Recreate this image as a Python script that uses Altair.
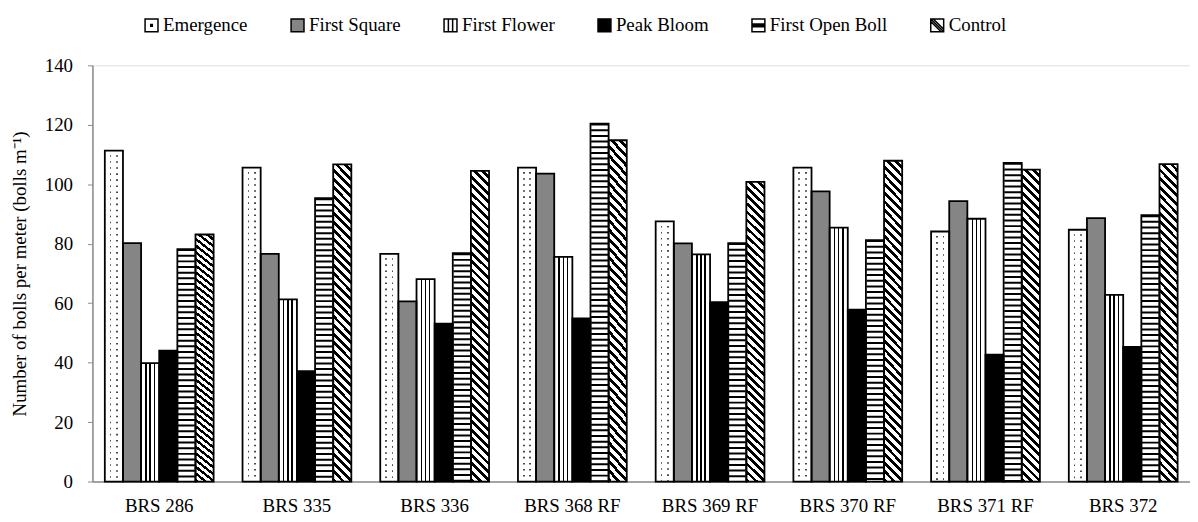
import altair as alt
import pandas as pd

# ---------------- data ----------------
varieties = ["BRS 286", "BRS 335", "BRS 336", "BRS 368 RF",
             "BRS 369 RF", "BRS 370 RF", "BRS 371 RF", "BRS 372"]
stages = ["Emergence", "First Square", "First Flower",
          "Peak Bloom", "First Open Boll", "Control"]

emergence = [111.3, 105.6, 76.6, 105.6, 87.5, 105.6, 84.1, 84.7]
first_square = [80.2, 76.6, 60.6, 103.6, 80.1, 97.6, 94.3, 88.6]
first_flower = [39.8, 61.3, 68.1, 75.6, 76.4, 85.4, 88.4, 62.8]
peak_bloom = [44.0, 37.1, 53.1, 54.9, 60.3, 57.8, 42.7, 45.3]
first_open_boll = [78.2, 95.3, 76.8, 120.4, 80.2, 81.2, 107.2, 89.6]
control = [83.1, 106.7, 104.5, 114.8, 100.8, 107.9, 104.9, 106.8]

y_ticks = [0, 20, 40, 60, 80, 100, 120, 140]

series = [emergence, first_square, first_flower, peak_bloom, first_open_boll, control]
rows = []
for stage, vals in zip(stages, series):
    for v, val in zip(varieties, vals):
        rows.append({"variety": v, "stage": stage, "value": val})
df = pd.DataFrame(rows)

# ---------------- styles ----------------
FONT = "Liberation Serif"
FS = 19
AXIS_GREY = "#8a8a8a"
PLOT_W = 1105
PLOT_H = 419
BAR_W = 18.3          # approx. pixel width of one bar (style constant)
REF_H = 314.0         # reference bar height used for the diagonal hatch angle
HATCH_PERIOD = 8.5

fill_range = ["white", "#858585", "white", "black", "white", "white"]
stroke_range = ["black"] * 6
shape_range = [
    "M-1,-1H1V1H-1Z M-0.12,-0.12H0.12V0.12H-0.12Z",
    "M-1,-1H1V1H-1Z",
    "M-1,-1H1V1H-1Z M-0.33,-1V1 M0.33,-1V1",
    "M-1,-1H1V1H-1Z",
    "M-1,-1H1V1H-1Z M-1,-0.2H1 M-1,0H1 M-1,0.2H1",
    "M-1,-1H1V1H-1Z M-1,-1L1,1 M-1,-0.6L0.6,1 M-0.6,-1L1,0.6",
]


def stripes(centers, half, color, bg="white"):
    stops = [alt.GradientStop(offset=0, color=bg)]
    for c in centers:
        stops += [alt.GradientStop(offset=c - half, color=bg),
                  alt.GradientStop(offset=c - half, color=color),
                  alt.GradientStop(offset=c + half, color=color),
                  alt.GradientStop(offset=c + half, color=bg)]
    stops.append(alt.GradientStop(offset=1, color=bg))
    return stops


emerg_grad = alt.LinearGradient(gradient="linear", x1=0, y1=0, x2=1, y2=0,
                                stops=stripes([0.32, 0.68], 0.045, "#4a4a4a"))
flower_grad = alt.LinearGradient(gradient="linear", x1=0, y1=0, x2=1, y2=0,
                                 stops=stripes([0.27, 0.5, 0.73], 0.04, "black"))

# diagonal "\" hatch in bounding-box units
r0 = REF_H / BAR_W
a = (1 + r0) / (1 + r0 * r0)
n_periods = int(round((BAR_W + REF_H) / HATCH_PERIOD))
dstops = []
for k in range(n_periods):
    s = k / n_periods
    m = (k + 0.45) / n_periods
    e = (k + 1) / n_periods
    dstops += [alt.GradientStop(offset=s, color="black"),
               alt.GradientStop(offset=m, color="black"),
               alt.GradientStop(offset=m, color="white"),
               alt.GradientStop(offset=e, color="white")]
control_grad = alt.LinearGradient(gradient="linear", x1=0, y1=1, x2=a, y2=1 - r0 * a,
                                  stops=dstops)

# ---------------- encodings ----------------
x_enc = alt.X("variety:N", sort=varieties,
              scale=alt.Scale(domain=varieties, paddingInner=0.21, paddingOuter=0.09),
              axis=alt.Axis(title=None, labelAngle=0, ticks=False, labelPadding=15,
                            labelFont=FONT, labelFontSize=FS, labelColor="black",
                            domainColor=AXIS_GREY, domainWidth=1.5))
xo_enc = alt.XOffset("stage:N", sort=stages,
                     scale=alt.Scale(domain=stages, paddingInner=0, paddingOuter=0))
y_enc = alt.Y("value:Q",
              scale=alt.Scale(domain=[0, 140], nice=False, zero=True),
              axis=alt.Axis(values=y_ticks, grid=False,
                            title="Number of bolls per meter (bolls m⁻¹)",
                            titleFont=FONT, titleFontSize=FS, titleFontWeight="normal",
                            titleColor="black", titlePadding=15,
                            labelFont=FONT, labelFontSize=FS, labelColor="black",
                            labelPadding=15, tickSize=5, tickColor=AXIS_GREY,
                            domainColor=AXIS_GREY, domainWidth=1.5))

legend = alt.Legend(title=None, orient="none", legendX=50, legendY=-50,
                    direction="horizontal", labelFont=FONT, labelFontSize=FS,
                    labelColor="black", symbolSize=169, symbolStrokeColor="black",
                    symbolStrokeWidth=1.5, symbolOpacity=1, columnPadding=40,
                    labelOffset=2, labelLimit=0)

fill_enc = alt.Fill("stage:N", sort=stages,
                    scale=alt.Scale(domain=stages, range=fill_range), legend=legend)
shape_enc = alt.Shape("stage:N", sort=stages,
                      scale=alt.Scale(domain=stages, range=shape_range), legend=legend)
stroke_enc = alt.Stroke("stage:N", sort=stages,
                        scale=alt.Scale(domain=stages, range=stroke_range), legend=legend)

base = alt.Chart(df)

bars = base.mark_bar().encode(x=x_enc, xOffset=xo_enc, y=y_enc, fill=fill_enc)

emerg = base.transform_filter(alt.datum.stage == "Emergence").mark_bar(
    fill=emerg_grad).encode(x=x_enc, xOffset=xo_enc, y=y_enc)
emerg_dots = base.transform_filter(alt.datum.stage == "Emergence").mark_rule(
    color="white", strokeWidth=14, strokeDash=[4.5, 1.6]).encode(
    x=x_enc, xOffset=xo_enc, y=y_enc, y2=alt.datum(0))

flower = base.transform_filter(alt.datum.stage == "First Flower").mark_bar(
    fill=flower_grad).encode(x=x_enc, xOffset=xo_enc, y=y_enc)

openboll = base.transform_filter(alt.datum.stage == "First Open Boll").mark_rule(
    color="black", strokeWidth=17, strokeDash=[2, 3.7]).encode(
    x=x_enc, xOffset=xo_enc, y=y_enc, y2=alt.datum(0))

ctrl = base.transform_filter(alt.datum.stage == "Control").mark_bar(
    fill=control_grad).encode(x=x_enc, xOffset=xo_enc, y=y_enc)

outline = base.mark_bar(fillOpacity=0, stroke="black", strokeWidth=1.8).encode(
    x=x_enc, xOffset=xo_enc, y=y_enc)

legend_pts = base.transform_filter("false").mark_point(
    filled=True, size=169, strokeWidth=1.5, opacity=1).encode(
    fill=fill_enc, shape=shape_enc, stroke=stroke_enc)

chart = alt.layer(bars, emerg, emerg_dots, flower, openboll, ctrl, outline, legend_pts).properties(
    width=PLOT_W, height=PLOT_H,
    autosize=alt.AutoSizeParams(type="none"),
    padding={"left": 85, "top": 56, "right": 0, "bottom": 36},
).configure_view(stroke=None).configure(background="white").configure_legend(
    labelFont=FONT, labelFontSize=FS, labelColor="black")

chart.save("out.html", embed_options={"renderer": "svg", "actions": False})
